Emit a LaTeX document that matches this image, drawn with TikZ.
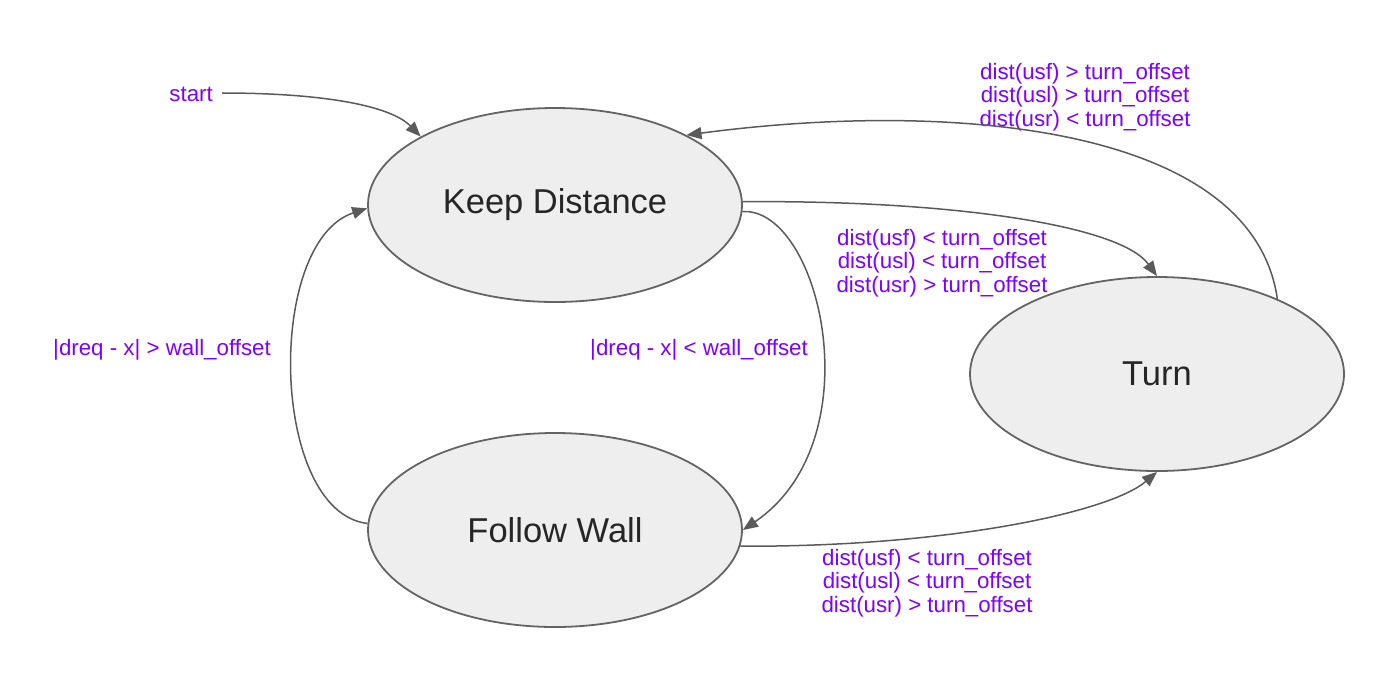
\documentclass[tikz,border=0pt]{standalone}
\usepackage{fontspec}
\setmainfont{Liberation Sans}
\usetikzlibrary{shapes.geometric,arrows.meta}
\definecolor{lbl}{RGB}{127,0,255}
\definecolor{edgec}{RGB}{90,90,90}
\definecolor{statefill}{RGB}{238,238,238}
\definecolor{stateline}{RGB}{100,100,100}
\tikzset{
  state/.style={ellipse, draw=stateline, line width=1.8pt, fill=statefill,
    minimum width=374pt, minimum height=194pt, inner sep=0pt,
    font=\fontsize{34.5}{37}\selectfont, text=black!85},
  lab/.style={text=lbl, font=\fontsize{22.3}{23.5}\selectfont, align=center, inner sep=0pt},
  conn/.style={draw=edgec, line width=1.5pt, -{Triangle[length=15pt,width=12pt]}}
}
\begin{document}
\begin{tikzpicture}[x=1pt,y=-1pt]
\useasboundingbox (0,0) rectangle (1388,686);
\node[state] (KD) at (555,205) {Keep Distance};
\node[state] (FW) at (555,530) {Follow Wall};
\node[state] (TU) at (1157,374) {Turn};

\node[lab, anchor=east] (st) at (213,94) {start};
\coordinate (sts) at (222,93);

\node[lab] (l1) at (1085,97) {dist(usf) > turn\_offset\\dist(usl) > turn\_offset\\dist(usr) < turn\_offset};
\node[lab] (l2) at (942,263) {dist(usf) < turn\_offset\\dist(usl) < turn\_offset\\dist(usr) > turn\_offset};
\node[lab] (l3) at (927,583) {dist(usf) < turn\_offset\\dist(usl) < turn\_offset\\dist(usr) > turn\_offset};
\node[lab] (l4) at (162,350) {|dreq - x| > wall\_offset};
\node[lab] (l5) at (699,350) {|dreq - x| < wall\_offset};

\path (KD.center) ++(0,-2) coordinate (kdc);
\draw[conn] (sts) .. controls (320,93) and (390,105) .. (KD.153);
\draw[conn] (KD.1) .. controls (950,200) and (1120,225) .. (TU.90);
\draw[conn] (TU.32) .. controls (1252,125) and (950,100) .. (KD.28);
\draw[conn] (KD.-2) .. controls (820,207) and (875,440) .. (FW.0);
\draw[conn] (FW.178) .. controls (270,512) and (265,242) .. (KD.181);
\draw[conn] (FW.-5) .. controls (950,547) and (1110,512) .. (TU.270);
\end{tikzpicture}
\end{document}
